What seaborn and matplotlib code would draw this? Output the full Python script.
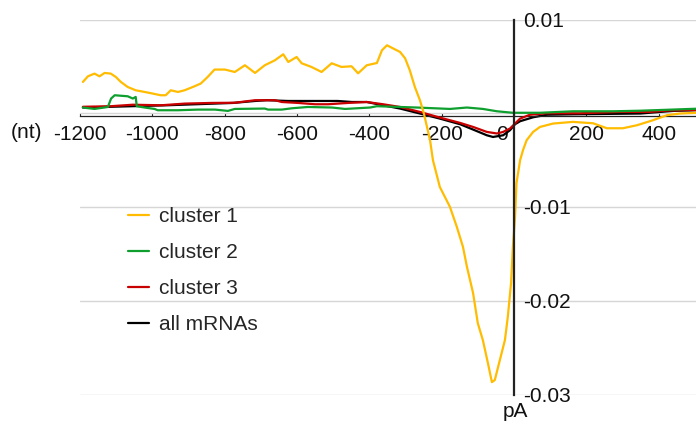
import matplotlib
matplotlib.use("Agg")
import matplotlib.pyplot as plt
import matplotlib.transforms as mtransforms
import pandas as pd
import seaborn as sns

# Mean profile per group, position relative to the poly(A) site (nt)
c1_nt = [-1192, -1178, -1160, -1146, -1132, -1115, -1101, -1087, -1068, -1046,
         -1021, -999, -977, -963, -949, -929, -911, -888, -866, -847, -828, -799,
         -772, -744, -716, -689, -661, -638, -624, -601, -587, -560, -532, -504,
         -477, -449, -431, -407, -379, -365, -351, -335, -315, -301, -288, -274,
         -260, -249, -232, -224, -205, -177, -158, -141, -130, -113, -100, -86,
         -72, -61, -53, -39, -25, -17, -8, -3, 3, 7, 17, 25, 35, 53, 72, 108, 163,
         219, 257, 301, 340, 384, 423, 459, 495, 503]
c1_val = [0.00334, 0.00394, 0.00423, 0.00394, 0.00430, 0.00423, 0.00387, 0.00334,
          0.00280, 0.00245, 0.00227, 0.00210, 0.00192, 0.00192, 0.00245, 0.00227,
          0.00245, 0.00280, 0.00317, 0.00387, 0.00466, 0.00466, 0.00440, 0.00512,
          0.00430, 0.00512, 0.00565, 0.00629, 0.00547, 0.00600, 0.00533, 0.00494,
          0.00440, 0.00533, 0.00494, 0.00501, 0.00426, 0.00512, 0.00536, 0.00672,
          0.00725, 0.00693, 0.00654, 0.00586, 0.00458, 0.00280, 0.00139, -0.00003,
          -0.00288, -0.00501, -0.00786, -0.00999, -0.01212, -0.01425, -0.01638,
          -0.01919, -0.02239, -0.02420, -0.02665, -0.02868, -0.02846, -0.02633,
          -0.02420, -0.02172, -0.01812, -0.01429, -0.01109, -0.00746, -0.00501,
          -0.00394, -0.00288, -0.00199, -0.00146, -0.00110, -0.00092, -0.00107,
          -0.00160, -0.00160, -0.00128, -0.00075, -0.00021, -0.00003, 0.00003,
          0.00005]

c2_nt = [-1192, -1160, -1123, -1114, -1104, -1068, -1054, -1046, -1043, -1021,
         -994, -985, -929, -874, -827, -791, -772, -689, -680, -642, -614, -570,
         -503, -467, -398, -379, -268, -177, -130, -86, -47, -3, 72, 163, 274, 349,
         423, 503]
c2_val = [0.00061, 0.00046, 0.00067, 0.00157, 0.00192, 0.00181, 0.00157, 0.00174,
          0.00075, 0.00061, 0.00046, 0.00032, 0.00032, 0.00039, 0.00039, 0.00025,
          0.00046, 0.00050, 0.00039, 0.00039, 0.00053, 0.00067, 0.00061, 0.00046,
          0.00061, 0.00075, 0.00061, 0.00046, 0.00061, 0.00046, 0.00021, 0.00005,
          0.00005, 0.00021, 0.00021, 0.00027, 0.00037, 0.00048]

c3_nt = [-1192, -1115, -1054, -976, -910, -838, -772, -716, -661, -642, -597,
         -550, -514, -459, -407, -362, -315, -260, -205, -149, -113, -75, -47,
         -30, -11, 3, 17, 44, 91, 183, 293, 376, 423, 503]
c3_val = [0.00069, 0.00075, 0.00091, 0.00085, 0.00103, 0.00110, 0.00112, 0.00139,
          0.00139, 0.00120, 0.00110, 0.00096, 0.00096, 0.00110, 0.00120, 0.00096,
          0.00067, 0.00014, -0.00046, -0.00103, -0.00146, -0.00199, -0.00216,
          -0.00199, -0.00163, -0.00110, -0.00057, -0.00016, 0.0, 0.0, 0.00014,
          0.00014, 0.00029, 0.00035]

all_nt = [-1192, -960, -777, -716, -683, -625, -487, -448, -407, -362, -315, -260,
          -205, -149, -113, -75, -58, -30, -11, 3, 17, 53, 91, 163, 349, 440, 503]
all_val = [0.00061, 0.00085, 0.00110, 0.00131, 0.00139, 0.00131, 0.00131, 0.00120,
           0.00120, 0.00085, 0.00050, -0.00003, -0.00057, -0.00117, -0.00174,
           -0.00235, -0.00253, -0.00235, -0.00181, -0.00117, -0.00085, -0.00043,
           -0.00016, -0.00011, -0.00003, 0.00025, 0.00032]

series_names = ["cluster 1", "cluster 2", "cluster 3", "all mRNAs"]
series_colors = ["#FFBC00", "#0E9F2E", "#C80000", "#000000"]

x_ticks = [-1200, -1000, -800, -600, -400, -200, 0, 200, 400]
x_labels = ["-1200", "-1000", "-800", "-600", "-400", "-200", "0", "200", "400"]
y_ticks = [0.01, 0.0, -0.01, -0.02, -0.03]
y_labels = ["0.01", "", "-0.01", "-0.02", "-0.03"]

frames = []
for name, xs, ys in zip(series_names,
                        [c1_nt, c2_nt, c3_nt, all_nt],
                        [c1_val, c2_val, c3_val, all_val]):
    frames.append(pd.DataFrame({"nt": xs, "value": ys, "group": name}))
df = pd.concat(frames, ignore_index=True)

sns.set_style("white")
plt.rcParams["font.family"] = ["Liberation Sans", "DejaVu Sans"]
plt.rcParams["axes.unicode_minus"] = False

W, H = 696, 426
fig = plt.figure(figsize=(W / 100, H / 100), dpi=100)
ax = fig.add_axes([80 / W, 31.5 / H, (W - 80) / W, 375 / H])

sns.lineplot(data=df, x="nt", y="value", hue="group", hue_order=series_names,
             palette=series_colors, estimator=None, sort=False, linewidth=1.6,
             legend=False, ax=ax)

zorders = [5, 4, 3, 2]
for line, z in zip(ax.lines, zorders):
    line.set_zorder(z)
    line.set_solid_joinstyle("round")

ax.set_xlim(-1200, 503.4)
ax.set_ylim(-0.03, 0.01)
ax.set_xlabel("")
ax.set_ylabel("")

# horizontal grid
ax.set_yticks(y_ticks)
ax.set_yticklabels(y_labels)
ax.yaxis.grid(True, color="#d6d6d6", linewidth=1.0)
ax.xaxis.grid(False)
ax.set_axisbelow(True)
for gl in ax.get_ygridlines():
    gl.set_clip_on(False)

# axes crossing at the origin
for side in ["top", "left"]:
    ax.spines[side].set_visible(False)
ax.spines["bottom"].set_position(("data", -0.0003))
ax.spines["bottom"].set_color("#222222")
ax.spines["bottom"].set_linewidth(0.9)
ax.spines["right"].set_position(("data", 0))
ax.spines["right"].set_color("#222222")
ax.spines["right"].set_linewidth(1.6)
ax.spines["right"].set_zorder(6)

ax.yaxis.tick_right()
ax.tick_params(axis="y", which="both", length=0, pad=6.5, labelsize=15,
               labelcolor="#111111")
ax.set_xticks(x_ticks)
ax.set_xticklabels(x_labels)
ax.tick_params(axis="x", which="both", direction="in", length=2.5, width=0.8,
               color="#222222", pad=6.2, labelsize=15, labelcolor="#111111",
               bottom=True)

# nudge the "0" label off the vertical axis
zero_idx = x_ticks.index(0)
zlab = ax.xaxis.get_major_ticks()[zero_idx].label1
zlab.set_transform(zlab.get_transform() +
                   mtransforms.ScaledTranslation(-0.12, 0, fig.dpi_scale_trans))

fig.text(27 / W, 1 - 133 / H, "(nt)", ha="center", va="center", fontsize=15,
         color="#111111")
fig.text(515 / W, 1 - 417 / H, "pA", ha="center", va="baseline", fontsize=15,
         color="#111111")

handles = list(ax.lines[:4])
ax.legend(handles, series_names, loc="upper left",
          bbox_to_anchor=(128 / W, 1 - 207 / H), bbox_transform=fig.transFigure,
          frameon=False, borderpad=0, borderaxespad=0, handlelength=1.0,
          handletextpad=0.5, labelspacing=0.82, fontsize=15)
for lh in ax.get_legend().get_lines():
    lh.set_linewidth(1.6)

fig.savefig("out.png", dpi=100)
